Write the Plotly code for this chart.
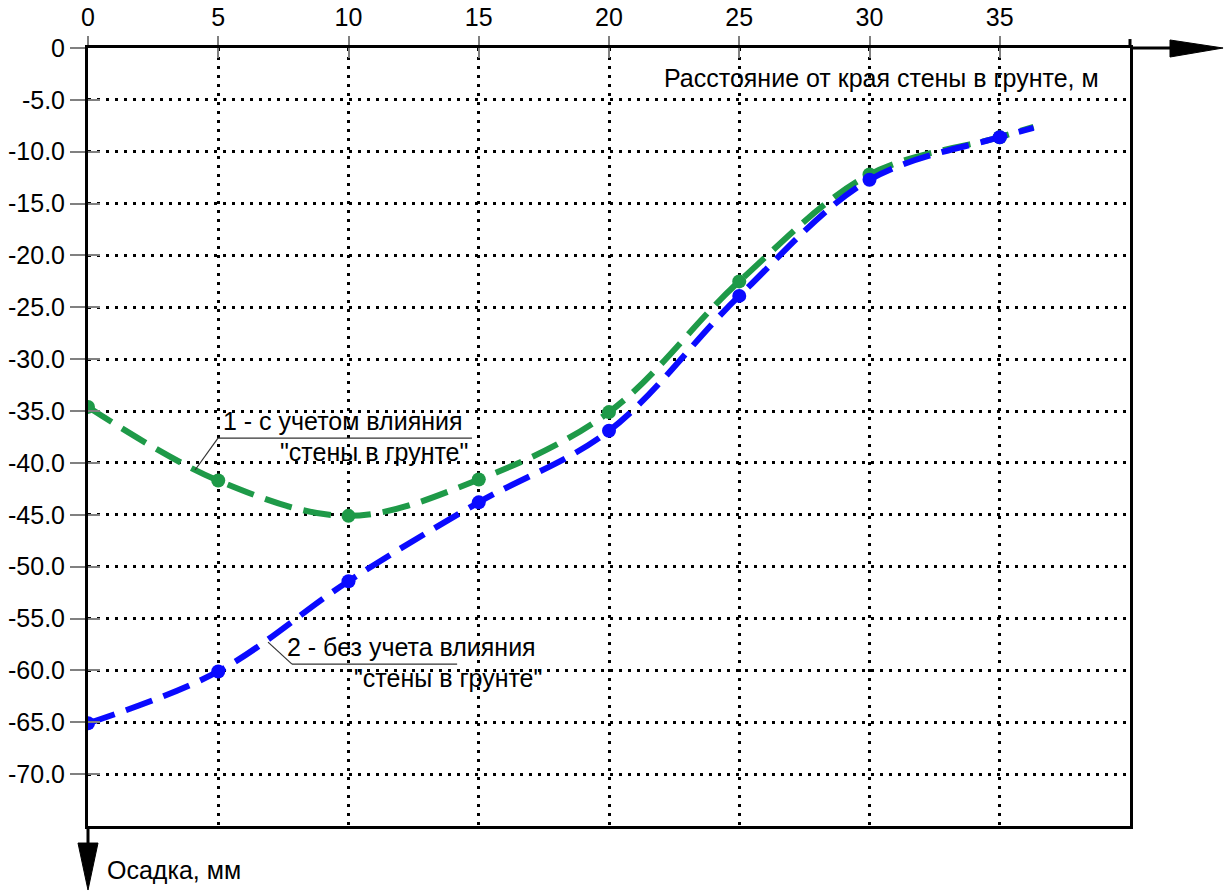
import plotly.graph_objects as go

# ---- data ----
dist = [0, 5, 10, 15, 20, 25, 30, 35]
settle_with_wall = [-34.6, -41.7, -45.1, -41.6, -35.1, -22.5, -12.2, -8.6]
settle_without_wall = [-65.1, -60.1, -51.4, -43.8, -36.9, -23.9, -12.7, -8.6]
tail_x = 36.3
tail_with = -7.6
tail_without = -7.7

x_ticks = [0, 5, 10, 15, 20, 25, 30, 35]
y_ticks = [0, -5, -10, -15, -20, -25, -30, -35, -40, -45, -50, -55, -60, -65, -70]
y_ticktext = ["0"] + ["%.1f" % v for v in y_ticks[1:]]

GREEN = "#1e9a48"
BLUE = "#0a0aff"
FONT = "Liberation Sans, Arial, sans-serif"
FS = 25

fig = go.Figure()

# dummy trace for the secondary (inside tick) axes
fig.add_trace(go.Scatter(x=[None], y=[None], xaxis="x2", yaxis="y2",
                         showlegend=False, hoverinfo="skip"))

for ys, tail, col in [(settle_with_wall, tail_with, GREEN),
                      (settle_without_wall, tail_without, BLUE)]:
    fig.add_trace(go.Scatter(
        x=dist + [tail_x], y=ys + [tail], mode="lines",
        line=dict(color=col, width=6, shape="spline", dash="28px,12px"),
        showlegend=False, hoverinfo="skip"))
    fig.add_trace(go.Scatter(
        x=dist, y=ys, mode="markers",
        marker=dict(color=col, size=14), showlegend=False))

axis_common = dict(showline=True, linecolor="black", linewidth=3, mirror=True,
                   zeroline=False, tickcolor="#808080", tickwidth=2,
                   automargin=False,
                   tickfont=dict(family=FONT, size=FS, color="black"))

fig.update_layout(
    width=1232, height=892,
    margin=dict(l=88, r=102, t=48, b=66, autoexpand=False),
    paper_bgcolor="white", plot_bgcolor="white",
    font=dict(family=FONT, size=FS, color="black"),
    xaxis=dict(range=[0, 40], side="top", tickvals=x_ticks,
               ticktext=[str(v) for v in x_ticks], ticks="outside", ticklen=9,
               showgrid=True, gridcolor="black", gridwidth=3, griddash="3px,6px",
               **axis_common),
    yaxis=dict(range=[-75, 0], tickvals=y_ticks, ticktext=y_ticktext,
               ticks="outside", ticklen=15,
               showgrid=True, gridcolor="black", gridwidth=3, griddash="3px,6px",
               **axis_common),
    xaxis2=dict(range=[0, 40], overlaying="x", side="top", tickvals=x_ticks,
                ticks="inside", ticklen=10, tickcolor="#808080", tickwidth=2,
                automargin=False,
                showticklabels=False, showgrid=False, zeroline=False, showline=False),
    yaxis2=dict(range=[-75, 0], overlaying="y", side="left", tickvals=y_ticks,
                ticks="inside", ticklen=12, tickcolor="#808080", tickwidth=2,
                automargin=False,
                showticklabels=False, showgrid=False, zeroline=False, showline=False),
)

# axis extensions and arrows (paper coordinates)
shapes = [
    dict(type="line", xref="paper", yref="paper", x0=1, x1=1.04, y0=1, y1=1,
         line=dict(color="black", width=3)),
    dict(type="path", xref="paper", yref="paper",
         path="M 1.0384 1.0103 L 1.0893 1.0 L 1.0384 0.9884 Z",
         fillcolor="black", line=dict(color="black", width=1)),
    dict(type="line", xref="paper", yref="paper", x0=1, x1=1, y0=1, y1=1.0115,
         line=dict(color="black", width=3)),
    dict(type="line", xref="paper", yref="paper", x0=0, x1=0, y0=0, y1=-0.023,
         line=dict(color="black", width=3)),
    dict(type="path", xref="paper", yref="paper",
         path="M -0.0096 -0.0219 L 0.0 -0.0823 L 0.0096 -0.0219 Z",
         fillcolor="black", line=dict(color="black", width=1)),
    # leader lines for the curve labels
    dict(type="line", xref="x", yref="y", x0=4.99, x1=14.74, y0=-37.6, y1=-37.6,
         line=dict(color="#333333", width=1.2)),
    dict(type="line", xref="x", yref="y", x0=4.99, x1=4.11, y0=-37.6, y1=-40.68,
         line=dict(color="#333333", width=1.2)),
    dict(type="line", xref="x", yref="y", x0=7.83, x1=14.17, y0=-59.39, y1=-59.39,
         line=dict(color="#333333", width=1.2)),
    dict(type="line", xref="x", yref="y", x0=7.83, x1=6.91, y0=-59.39, y1=-57.27,
         line=dict(color="#333333", width=1.2)),
]
fig.update_layout(shapes=shapes)

ann = [
    dict(text="Расстояние от края стены в грунте, м", xref="paper", yref="paper",
         x=0.972, y=0.9614, xanchor="right", yanchor="middle", showarrow=False),
    dict(text="Осадка, мм", xref="paper", yref="paper",
         x=0.0163, y=-0.0566, xanchor="left", yanchor="middle", showarrow=False),
    dict(text="1 - с учетом влияния", xref="x", yref="y", x=5.1, y=-35.96,
         xanchor="left", yanchor="middle", showarrow=False),
    dict(text="\"стены в грунте\"", xref="x", yref="y", x=14.65, y=-38.95,
         xanchor="right", yanchor="middle", showarrow=False),
    dict(text="2 - без учета влияния", xref="x", yref="y", x=7.55, y=-57.75,
         xanchor="left", yanchor="middle", showarrow=False),
    dict(text="\"стены в грунте\"", xref="x", yref="y", x=17.5, y=-60.73,
         xanchor="right", yanchor="middle", showarrow=False),
]
fig.update_layout(annotations=ann)

fig.write_html("out.html")
